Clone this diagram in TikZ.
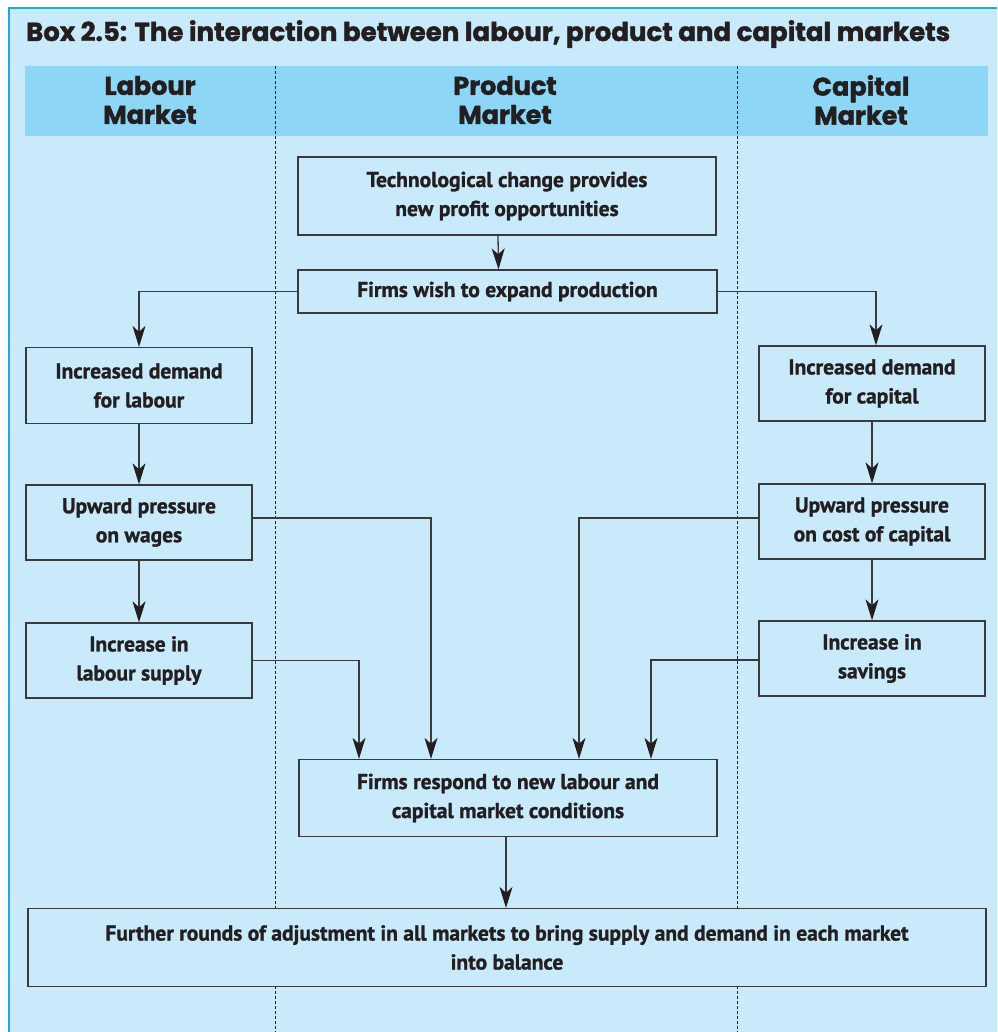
\documentclass[tikz,border=0pt]{standalone}
\usepackage{fontspec}
\setmainfont{PT Sans}
\newfontfamily\boxfont{PT Sans}[BoldFeatures={FakeBold=1.2}]
\newfontfamily\titlefont{Poppins}[BoldFeatures={FakeBold=1.5}]
\usetikzlibrary{arrows.meta}
\definecolor{bgblue}{HTML}{C8EAFA}
\definecolor{hdblue}{HTML}{8ED6F6}
\definecolor{edgeblue}{HTML}{1AAAE6}
\definecolor{linegrey}{HTML}{3A3A3A}
\definecolor{textdark}{HTML}{231F20}
\begin{document}
\begin{tikzpicture}[x=1pt,y=-1pt,
  box/.style={draw=linegrey, line width=1.3pt, fill=bgblue, inner sep=0pt, align=center,
    text=textdark, font=\boxfont\fontsize{21.5}{29}\selectfont\bfseries},
  conn/.style={draw=linegrey, line width=1.3pt, -{Stealth[length=21pt,width=13pt,inset=6pt,color=textdark]}},
  divider/.style={draw=textdark, line width=0.9pt, dash pattern=on 3pt off 2pt},
  header/.style={align=center, text=textdark, font=\titlefont\fontsize{25.5}{29}\selectfont\bfseries},
]
\useasboundingbox (0,0) rectangle (997,1032);
\fill[white] (0,0) rectangle (997,1032);
\fill[bgblue] (9,8) rectangle (997,1032);
\draw[edgeblue, line width=1.5pt] (9,1032) -- (9,8) -- (997,8);
\fill[hdblue] (25,66) rectangle (988,136);
\draw[divider] (275,66) -- (275,1032);
\draw[divider] (737,66) -- (737,1032);

\node[anchor=base west, inner sep=0pt, text=textdark, font=\titlefont\fontsize{26}{30}\selectfont\bfseries] (title) at (26,41)
  {Box 2.5: The interaction between labour, product and capital markets};

\node[header] (hl) at (150,100) {Labour\\Market};
\node[header] (hp) at (505,100) {Product\\Market};
\node[header] (hc) at (861,100) {Capital\\Market};

\node[box, minimum width=418pt, minimum height=78pt] (tech) at (507,196) {Technological change provides\\new profit opportunities};
\node[box, minimum width=419pt, minimum height=43pt] (wish) at (507.5,291.5) {Firms wish to expand production};
\node[box, minimum width=226pt, minimum height=76pt] (dl) at (139,385.5) {Increased demand\\for labour};
\node[box, minimum width=226pt, minimum height=75pt] (uw) at (139,522.5) {Upward pressure\\on wages};
\node[box, minimum width=226pt, minimum height=75pt] (ls) at (139,660.5) {Increase in\\labour supply};
\node[box, minimum width=226pt, minimum height=75pt] (dc) at (872,383.5) {Increased demand\\for capital};
\node[box, minimum width=226pt, minimum height=75pt] (uc) at (872,521.5) {Upward pressure\\on cost of capital};
\node[box, minimum width=226pt, minimum height=75pt] (sv) at (872,658.5) {Increase in\\savings};
\node[box, minimum width=418pt, minimum height=77pt] (resp) at (508,798) {Firms respond to new labour and\\capital market conditions};
\node[box, minimum width=958pt, minimum height=78pt] (fr) at (507,947.5) {Further rounds of adjustment in all markets to bring supply and demand in each market\\into balance};

\draw[conn] ([xshift=-9pt]tech.south) -- ([xshift=-9pt]wish.north);
\draw[conn] (wish.west) -| (dl.north);
\draw[conn] (wish.east) -| ([xshift=4pt]dc.north);
\draw[conn] (dl) -- (uw);
\draw[conn] (uw) -- (ls);
\draw[conn] (dc) -- (uc);
\draw[conn] (uc) -- (sv);
\draw[conn] ([yshift=4.5pt]uw.east) -| ([xshift=-77pt]resp.north);
\draw[conn] (ls.east) -| ([xshift=-149pt]resp.north);
\draw[conn] ([yshift=3.5pt]uc.west) -| ([xshift=71pt]resp.north);
\draw[conn] ([yshift=-1.5pt]sv.west) -| ([xshift=143pt]resp.north);
\draw[conn] ([xshift=-2pt]resp.south) -- ([xshift=-1pt]fr.north);
\end{tikzpicture}
\end{document}
